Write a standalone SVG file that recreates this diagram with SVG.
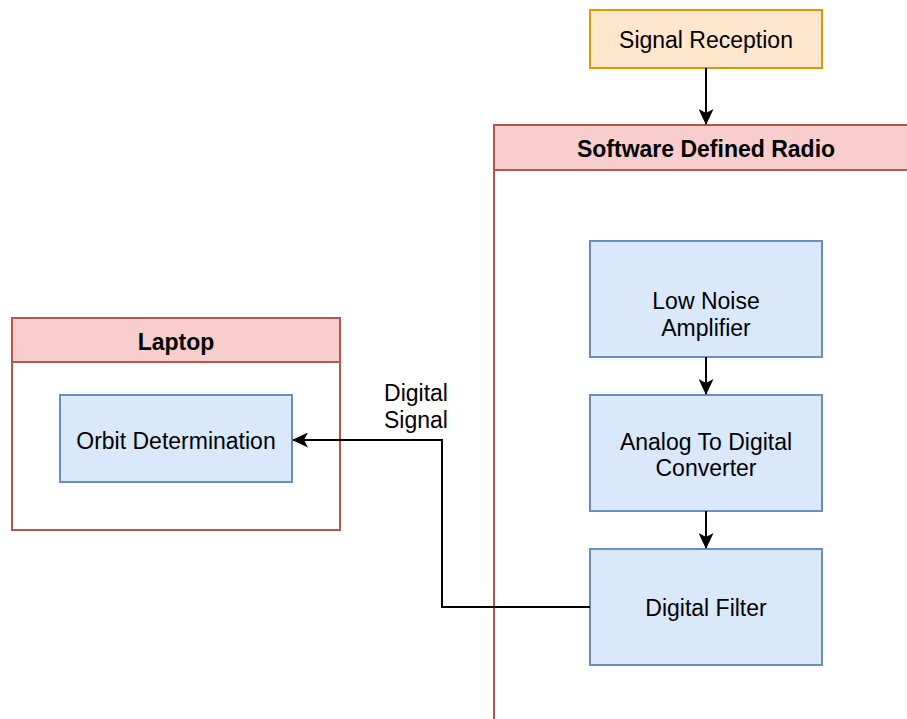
<svg xmlns="http://www.w3.org/2000/svg" width="907" height="719" viewBox="0 0 907 719">
  <style>
    text { font-family: "Liberation Sans", Arial, sans-serif; font-size: 23px; fill: #000; text-anchor: middle; }
    .bold { font-weight: bold; }
    .block { fill: #dae8fc; stroke: #6c8ebf; stroke-width: 2; }
    .source { fill: #ffe6cc; stroke: #d79b00; stroke-width: 2; }
    .frame { fill: #ffffff; stroke: #b85450; stroke-width: 2; }
    .header { fill: #f8cecc; stroke: #b85450; stroke-width: 2; }
    .edge { fill: none; stroke: #000; stroke-width: 2; }
  </style>
  <defs>
    <marker id="classic" viewBox="0 0 16 15" refX="15" refY="7.5" markerWidth="16" markerHeight="15" markerUnits="userSpaceOnUse" orient="auto">
      <path d="M0,0 L16,7.5 L0,15 L4,7.5 Z" fill="#000"/>
    </marker>
  </defs>

  <rect width="907" height="719" fill="#ffffff"/>

  <!-- Software Defined Radio container (runs past the right and bottom edges) -->
  <g id="sdr">
    <rect class="frame" x="494" y="125" width="430" height="610"/>
    <rect class="header" x="494" y="125" width="430" height="45"/>
    <text class="bold" x="706" y="157">Software Defined Radio</text>
  </g>

  <!-- Laptop container -->
  <g id="laptop">
    <rect class="frame" x="12" y="318" width="328" height="212"/>
    <rect class="header" x="12" y="318" width="328" height="44"/>
    <text class="bold" x="176" y="350">Laptop</text>
  </g>

  <g id="signal-reception">
    <rect class="source" x="590" y="10" width="232" height="58"/>
    <text x="706" y="48">Signal Reception</text>
  </g>

  <g id="lna">
    <rect class="block" x="590" y="241" width="232" height="116"/>
    <text x="706" y="309">Low Noise</text>
    <text x="706" y="336">Amplifier</text>
  </g>

  <g id="adc">
    <rect class="block" x="590" y="395" width="232" height="116"/>
    <text x="706" y="450">Analog To Digital</text>
    <text x="706" y="476">Converter</text>
  </g>

  <g id="digital-filter">
    <rect class="block" x="590" y="549" width="232" height="116"/>
    <text x="706" y="616">Digital Filter</text>
  </g>

  <g id="orbit-determination">
    <rect class="block" x="60" y="395" width="232" height="87"/>
    <text x="176" y="449">Orbit Determination</text>
  </g>

  <!-- Connectors -->
  <g id="connectors">
    <path class="edge" d="M706,68 L706,124" marker-end="url(#classic)"/>
    <path class="edge" d="M706,357 L706,394" marker-end="url(#classic)"/>
    <path class="edge" d="M706,511 L706,548" marker-end="url(#classic)"/>
    <path class="edge" d="M590,607 L442,607 L442,440 L293,440" marker-end="url(#classic)"/>
    <text x="416" y="401">Digital</text>
    <text x="416" y="428">Signal</text>
  </g>
</svg>
